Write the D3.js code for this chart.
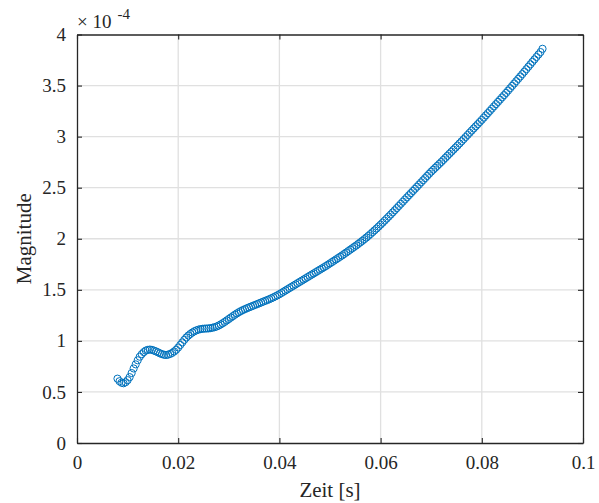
<!DOCTYPE html>
<html>
<head>
<meta charset="utf-8">
<script src="https://cdn.jsdelivr.net/npm/d3@7"></script>
<style>
  html, body { margin: 0; padding: 0; background: #fff; }
  svg { display: block; }
  text { font-family: "Liberation Serif", "Times New Roman", serif; fill: #262626; }
</style>
</head>
<body>
<svg id="chart" width="599" height="503"></svg>
<script>
// Sampling: first sample time and interval (seconds)
const tStart = 0.008;
const dt = 0.0004;

// Magnitude per sample, in units of 1e-4
const magnitude = [
  0.63, 0.605, 0.59, 0.585, 0.595, 0.615, 0.645, 0.685, 0.73, 0.77,
  0.81, 0.845, 0.87, 0.89, 0.905, 0.912, 0.915, 0.912, 0.905, 0.897,
  0.888, 0.878, 0.87, 0.864, 0.862, 0.865, 0.872, 0.882, 0.896, 0.913,
  0.935, 0.96, 0.985, 1.01, 1.033, 1.052, 1.068, 1.082, 1.094, 1.103,
  1.11, 1.115, 1.118, 1.12, 1.121, 1.122, 1.125, 1.129, 1.134, 1.141,
  1.15, 1.161, 1.173, 1.186, 1.20, 1.214, 1.228, 1.242, 1.256, 1.269,
  1.281, 1.292, 1.302, 1.311, 1.32, 1.328, 1.336, 1.344, 1.352, 1.36,
  1.368, 1.376, 1.384, 1.392, 1.40, 1.408, 1.417, 1.426, 1.436, 1.446,
  1.457, 1.469, 1.481, 1.493, 1.505, 1.517, 1.529, 1.541, 1.553, 1.565,
  1.577, 1.589, 1.601, 1.613, 1.625, 1.637, 1.649, 1.661, 1.673, 1.685,
  1.697, 1.709, 1.721, 1.733, 1.746, 1.759, 1.772, 1.785, 1.798, 1.811,
  1.824, 1.837, 1.851, 1.865, 1.879, 1.893, 1.907, 1.921, 1.935, 1.95,
  1.965, 1.98, 1.996, 2.012, 2.029, 2.046, 2.064, 2.082, 2.10, 2.119,
  2.138, 2.157, 2.177, 2.197, 2.217, 2.237, 2.258, 2.279, 2.30, 2.321,
  2.342, 2.363, 2.384, 2.405, 2.426, 2.447, 2.468, 2.489, 2.51, 2.531,
  2.552, 2.573, 2.594, 2.615, 2.636, 2.657, 2.676, 2.695, 2.714, 2.733,
  2.752, 2.772, 2.792, 2.812, 2.832, 2.852, 2.872, 2.892, 2.912, 2.933,
  2.954, 2.975, 2.996, 3.017, 3.038, 3.059, 3.08, 3.101, 3.122, 3.143,
  3.164, 3.186, 3.208, 3.23, 3.252, 3.274, 3.296, 3.318, 3.34, 3.362,
  3.384, 3.406, 3.428, 3.451, 3.474, 3.497, 3.52, 3.543, 3.566, 3.589,
  3.612, 3.636, 3.66, 3.684, 3.708, 3.732, 3.756, 3.78, 3.804, 3.828,
  3.86
];

const xTicks = [0, 0.02, 0.04, 0.06, 0.08, 0.1];
const xTickLabels = ["0", "0.02", "0.04", "0.06", "0.08", "0.1"];
const yTicks = [0, 0.5, 1, 1.5, 2, 2.5, 3, 3.5, 4];
const yTickLabels = ["0", "0.5", "1", "1.5", "2", "2.5", "3", "3.5", "4"];
const xLabel = "Zeit [s]";
const yLabel = "Magnitude";
const exponentBase = "\u00d7 10";
const exponentPower = "-4";

const points = magnitude.map((v, i) => ({ t: tStart + i * dt, v: v }));

const margin = { left: 77, right: 16, top: 34.5, bottom: 60 };
const W = 599, H = 503;
const plotW = W - margin.left - margin.right;
const plotH = H - margin.top - margin.bottom;

const svg = d3.select("#chart");
const g = svg.append("g").attr("transform", `translate(${margin.left},${margin.top})`);

const x = d3.scaleLinear().domain([0, 0.1]).range([0, plotW]);
const y = d3.scaleLinear().domain([0, 4]).range([plotH, 0]);

const axisColor = "#262626";
const gridColor = "#e0e0e0";

// Grid lines
g.append("g")
  .selectAll("line")
  .data(xTicks.slice(1, -1))
  .join("line")
  .attr("x1", d => x(d)).attr("x2", d => x(d))
  .attr("y1", 0).attr("y2", plotH)
  .attr("stroke", gridColor).attr("stroke-width", 1.3);
g.append("g")
  .selectAll("line")
  .data(yTicks.slice(1, -1))
  .join("line")
  .attr("x1", 0).attr("x2", plotW)
  .attr("y1", d => y(d)).attr("y2", d => y(d))
  .attr("stroke", gridColor).attr("stroke-width", 1.3);

// Circle markers
g.append("g")
  .selectAll("circle")
  .data(points)
  .join("circle")
  .attr("cx", d => x(d.t))
  .attr("cy", d => y(d.v))
  .attr("r", 3.6)
  .attr("fill", "none")
  .attr("stroke", "#0072BD")
  .attr("stroke-width", 1);

// Box axes with inward ticks on all four sides
const tickLen = 5;
const styleAxis = sel => {
  sel.select(".domain").attr("stroke", axisColor).attr("stroke-width", 1.3);
  sel.selectAll(".tick line").attr("stroke", axisColor).attr("stroke-width", 1.1);
  sel.selectAll(".tick text")
    .attr("fill", axisColor)
    .attr("font-family", null)
    .attr("font-size", null)
    .style("font-size", "19px");
};

g.append("g")
  .attr("transform", `translate(0,${plotH})`)
  .call(d3.axisBottom(x).tickValues(xTicks).tickFormat((d, i) => xTickLabels[i])
    .tickSizeInner(-tickLen).tickSizeOuter(0).tickPadding(13))
  .call(styleAxis);

g.append("g")
  .call(d3.axisTop(x).tickValues(xTicks).tickFormat("")
    .tickSizeInner(-tickLen).tickSizeOuter(0))
  .call(styleAxis);

g.append("g")
  .call(d3.axisLeft(y).tickValues(yTicks).tickFormat((d, i) => yTickLabels[i])
    .tickSizeInner(-tickLen).tickSizeOuter(0).tickPadding(11))
  .call(styleAxis);

g.append("g")
  .attr("transform", `translate(${plotW},0)`)
  .call(d3.axisRight(y).tickValues(yTicks).tickFormat("")
    .tickSizeInner(-tickLen).tickSizeOuter(0))
  .call(styleAxis);

// Axis labels
svg.append("text")
  .attr("x", margin.left + plotW / 2)
  .attr("y", 497)
  .attr("text-anchor", "middle")
  .style("font-size", "21px")
  .text(xLabel);

svg.append("text")
  .attr("transform", `translate(31,${margin.top + plotH / 2}) rotate(-90)`)
  .attr("text-anchor", "middle")
  .style("font-size", "21px")
  .text(yLabel);

// Exponent annotation above the y axis
const expo = svg.append("text")
  .attr("x", margin.left)
  .attr("y", 28)
  .style("font-size", "19px");
expo.append("tspan").text(exponentBase);
expo.append("tspan")
  .attr("dx", 6)
  .attr("dy", -9)
  .style("font-size", "15px")
  .text(exponentPower);
</script>
</body>
</html>
